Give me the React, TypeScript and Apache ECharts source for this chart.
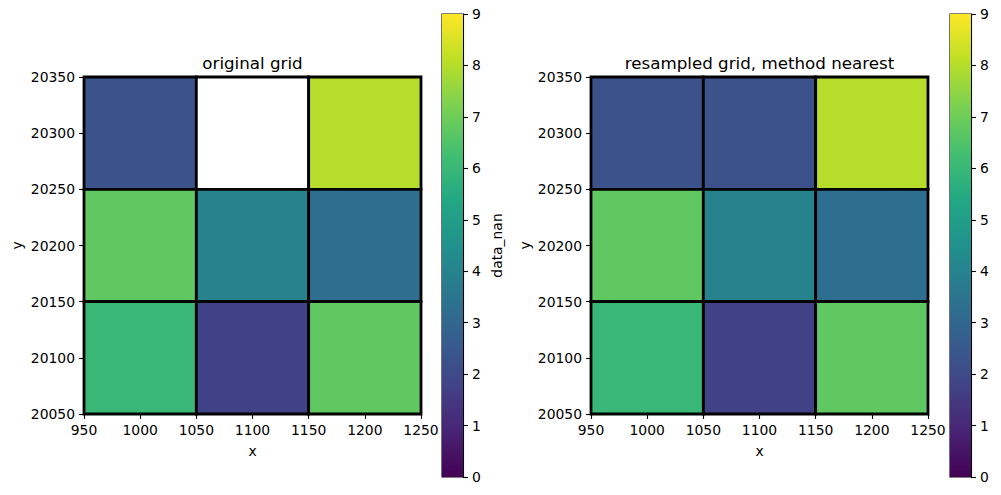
import React, { useEffect, useRef } from "react";
import * as echarts from "echarts";

// Grid cell centres
const xCenters = [1000, 1100, 1200];
const yCenters = [20300, 20200, 20100];
// Values (rows top -> bottom), NaN = missing
const originalValues = [
  [2.25, NaN, 8.0],
  [6.75, 4.0, 3.25],
  [6.0, 1.75, 6.75],
];
const resampledValues = [
  [2.25, 2.25, 8.0],
  [6.75, 4.0, 3.25],
  [6.0, 1.75, 6.75],
];
const xTicks = [950, 1250, 50];
const yTicks = [20050, 20350, 50];
const cbRange = [0, 9];
const titles = ["original grid", "resampled grid, method nearest"];
const cbLabel = "data_nan";

const VIRIDIS = [
  "#440154", "#482475", "#414487", "#355f8d", "#2a788e", "#21918c",
  "#22a884", "#44bf70", "#7ad151", "#bddf26", "#fde725",
];

function hexToRgb(h: string) {
  return [parseInt(h.slice(1, 3), 16), parseInt(h.slice(3, 5), 16), parseInt(h.slice(5, 7), 16)];
}
function viridis(t: number) {
  t = Math.max(0, Math.min(1, t));
  const p = t * (VIRIDIS.length - 1);
  const i = Math.min(Math.floor(p), VIRIDIS.length - 2);
  const f = p - i;
  const a = hexToRgb(VIRIDIS[i]);
  const b = hexToRgb(VIRIDIS[i + 1]);
  const c = a.map((v, k) => Math.round(v + (b[k] - v) * f));
  return `rgb(${c[0]},${c[1]},${c[2]})`;
}

function cellData(vals: number[][]) {
  const out: any[] = [];
  yCenters.forEach((y, r) =>
    xCenters.forEach((x, c) => out.push([x, y, isNaN(vals[r][c]) ? null : vals[r][c]]))
  );
  return out;
}

const FONT = "DejaVu Sans";
const TICK_FS = 13.9;

export default function App() {
  const ref = useRef<HTMLDivElement>(null);
  useEffect(() => {
    if (!ref.current) return;
    const chart = echarts.init(ref.current, undefined, { renderer: "svg" });

    const plotGrid = (left: number) => ({
      left, top: 77, width: 337, height: 337,
      show: true, borderColor: "#000", borderWidth: 1.1, backgroundColor: "transparent",
    });
    const cbGrid = (left: number) => ({
      left, top: 14, width: 21, height: 463,
      show: true, borderColor: "#000", borderWidth: 1.1, backgroundColor: "transparent",
    });
    const axisCommon = {
      axisLine: { show: true, onZero: false, lineStyle: { color: "#000", width: 1.1 } },
      axisTick: { show: true, inside: false, length: 4.9, lineStyle: { color: "#000", width: 1.1 } },
      axisLabel: {
        color: "#000", fontFamily: FONT, fontSize: TICK_FS, margin: 9,
        formatter: (v: number) => String(v),
      },
      splitLine: { show: false },
    };
    const xAx = (gi: number) => ({
      type: "value", gridIndex: gi, min: xTicks[0], max: xTicks[1], interval: xTicks[2], ...axisCommon,
    });
    const yAx = (gi: number) => ({
      type: "value", gridIndex: gi, min: yTicks[0], max: yTicks[1], interval: yTicks[2], ...axisCommon,
    });
    const cbX = (gi: number) => ({ type: "value", gridIndex: gi, min: 0, max: 1, show: false });
    const cbY = (gi: number) => ({
      type: "value", gridIndex: gi, min: cbRange[0], max: cbRange[1], interval: 1, position: "right",
      ...axisCommon,
    });

    const cellSeries = (gi: number, vals: number[][]) => ({
      type: "custom",
      xAxisIndex: gi, yAxisIndex: gi,
      data: cellData(vals),
      renderItem: (params: any, api: any) => {
        const x = api.value(0);
        const y = api.value(1);
        const v = api.value(2);
        const p0 = api.coord([x - 50, y + 50]);
        const p1 = api.coord([x + 50, y - 50]);
        const fill = v == null || isNaN(v) ? "#ffffff" : viridis((v - cbRange[0]) / (cbRange[1] - cbRange[0]));
        return {
          type: "rect",
          shape: { x: p0[0], y: p0[1], width: p1[0] - p0[0], height: p1[1] - p0[1] },
          style: { fill, stroke: "#000", lineWidth: 2.8 },
        };
      },
      z: 3,
    });
    const cbSeries = (gi: number) => ({
      type: "custom",
      xAxisIndex: gi, yAxisIndex: gi,
      data: [[0, cbRange[1]]],
      renderItem: (params: any, api: any) => {
        const p0 = api.coord([0, cbRange[1]]);
        const p1 = api.coord([1, cbRange[0]]);
        return {
          type: "rect",
          shape: { x: p0[0], y: p0[1], width: p1[0] - p0[0], height: p1[1] - p0[1] },
          style: {
            fill: new echarts.graphic.LinearGradient(0, 1, 0, 0,
              VIRIDIS.map((c, i) => ({ offset: i / (VIRIDIS.length - 1), color: c }))),
          },
        };
      },
      z: 1,
    });

    const txt = (text: string, x: number, y: number, fs: number, rot = 0) => ({
      type: "text", x, y, rotation: rot,
      style: { text, fill: "#000", font: `${fs}px "${FONT}"`, textAlign: "center", textVerticalAlign: "middle" },
      z: 10,
    });

    chart.setOption({
      animation: false,
      backgroundColor: "#fff",
      grid: [plotGrid(84), cbGrid(442), plotGrid(591), cbGrid(950)],
      xAxis: [xAx(0), cbX(1), xAx(2), cbX(3)],
      yAxis: [yAx(0), cbY(1), yAx(2), cbY(3)],
      series: [cellSeries(0, originalValues), cbSeries(1), cellSeries(2, resampledValues), cbSeries(3)],
      graphic: [
        txt(titles[0], 252.5, 63, 16.7),
        txt(titles[1], 759.5, 63, 16.7),
        txt("x", 252.5, 451, TICK_FS),
        txt("x", 759.5, 451, TICK_FS),
        txt("y", 17, 245.5, TICK_FS, Math.PI / 2),
        txt("y", 525, 245.5, TICK_FS, Math.PI / 2),
        txt(cbLabel, 497, 245.5, TICK_FS, Math.PI / 2),
      ],
    });
    return () => chart.dispose();
  }, []);
  return <div ref={ref} style={{ position: "absolute", left: 0, top: 0, width: 1001, height: 495 }} />;
}
